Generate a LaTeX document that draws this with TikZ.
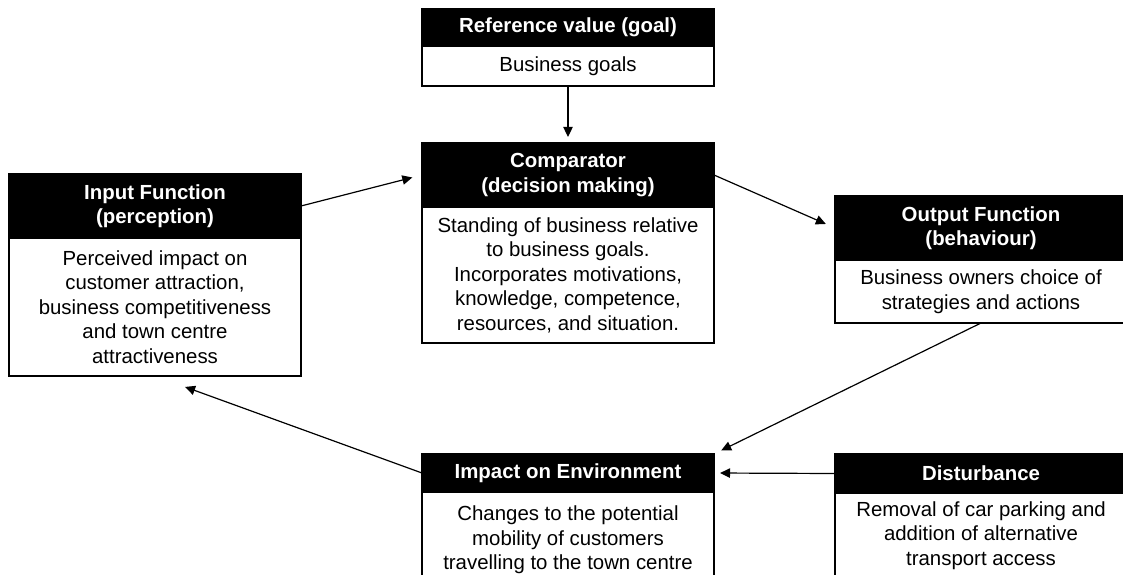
\documentclass[tikz,border=0pt]{standalone}
\usepackage{fontspec}
\setmainfont{Liberation Sans}
\usetikzlibrary{positioning,arrows.meta}

\begin{document}
\begin{tikzpicture}[x=0.75pt, y=-0.75pt,
  every node/.style={inner sep=0pt, outer sep=0pt, align=center, font=\fontsize{15.3}{18.4}\selectfont},
  head/.style={fill=black, draw=black, line width=0.9pt, text=white, font=\fontsize{15.3}{18.4}\selectfont\bfseries, minimum width=219pt, anchor=north west},
  body/.style={fill=white, draw=black, line width=0.9pt, minimum width=219pt},
  arr/.style={-{Triangle[length=7.5pt,width=7pt]}, line width=0.9pt}]
\useasboundingbox (0,0) rectangle (1123,574);
\clip (0,0) rectangle (1123,574);

\node[head, minimum height=27.75pt] (refh) at (422,9) {Reference value (goal)};
\node[body, minimum height=30pt, below=0pt of refh] (refb) {Business goals};

\node[head, minimum height=48pt] (comph) at (422,143) {Comparator\\(decision making)};
\node[body, minimum height=102pt, below=0pt of comph] (compb) {Standing of business relative\\to business goals.\\Incorporates motivations,\\knowledge, competence,\\resources, and situation.};

\node[head, minimum height=48pt] (inh) at (9,174) {Input Function\\(perception)};
\node[body, minimum height=103.5pt, below=0pt of inh] (inb) {Perceived impact on\\customer attraction,\\business competitiveness\\and town centre\\attractiveness};

\node[head, minimum height=48pt] (outh) at (835,196) {Output Function\\(behaviour)};
\node[body, minimum height=47.25pt, below=0pt of outh] (outb) {Business owners choice of\\strategies and actions};

\node[head, minimum height=28.5pt] (imph) at (422,454) {Impact on Environment};
\node[body, minimum height=72pt, below=0pt of imph] (impb) {Changes to the potential\\mobility of customers\\travelling to the town centre};

\node[head, minimum height=29.25pt] (dish) at (835,454) {Disturbance};
\node[body, minimum height=64pt, below=0pt of dish] (disb) {Removal of car parking and\\addition of alternative\\transport access};

\draw[arr, shorten >=4.5pt] (refb.south) -- (comph.north);
\draw[arr, shorten >=7.5pt] (inh.east) -- (comph.west);
\draw[arr, shorten >=7.5pt] (comph.east) -- (outh.west);
\draw[arr, shorten >=6pt] (outb.south) -- (imph.north east);
\draw[arr, shorten >=4.5pt] (dish.west) -- (imph.east);
\draw[arr, shorten >=24pt] (imph.west) -- (inb.south);
\end{tikzpicture}
\end{document}
